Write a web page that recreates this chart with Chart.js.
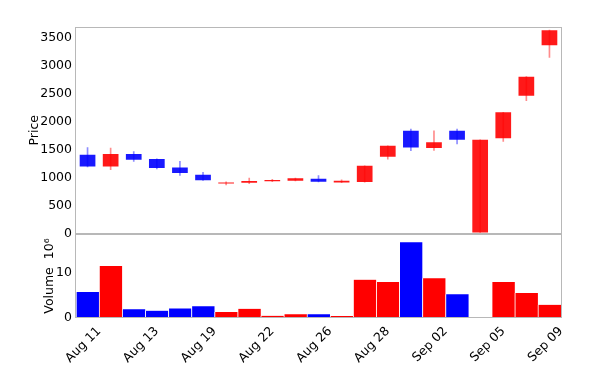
<!DOCTYPE html>
<html>
<head>
<meta charset="utf-8">
<script src="https://cdn.jsdelivr.net/npm/chart.js@4"></script>
<style>
  html, body { margin: 0; padding: 0; background: #fff; }
  #wrap { position: relative; width: 600px; height: 388px; }
  .box { position: absolute; left: 0; width: 600px; }
  #price-box { top: 0; height: 245px; }
  #vol-box   { top: 214px; height: 174px; }
</style>
</head>
<body>
<div id="wrap">
  <div id="price-box" class="box"><canvas id="price-chart"></canvas></div>
  <div id="vol-box" class="box"><canvas id="vol-chart"></canvas></div>
</div>
<script>
// ── Data ──────────────────────────────────────────────────────────────────
const OPEN  = [1411, 1202, 1423, 1333, 1184, 1054,  895,  911,  934,  946,  982,  916,  923, 1375, 1839, 1530, 1839,   20, 1708, 2470, 3375];
const HIGH  = [1541, 1530, 1470, 1340, 1291, 1095,  925,  995,  970,  995, 1036,  960, 1214, 1571, 1869, 1839, 1869, 1679, 2173, 2810, 3643];
const LOW   = [1195, 1143, 1291, 1155, 1042,  950,  870,  893,  930,  943,  925,  912,  920, 1333, 1482, 1488, 1607,   20, 1649, 2381, 3155];
const CLOSE = [1202, 1423, 1321, 1173, 1083,  952,  912,  941,  959,  988,  929,  946, 1214, 1571, 1541, 1637, 1679, 1679, 2173, 2810, 3643];
const VOLUME = [5.7, 11.4, 1.9, 1.6, 2.1, 2.6, 1.3, 2.0, 0.5, 0.8, 0.8, 0.45, 8.4, 7.9, 16.6, 8.7, 5.2, 0, 7.9, 5.5, 2.9];

// x ticks sit between trading days (index units, day i spans i..i+1)
const TICK_AT     = [1, 3.5, 6, 8.5, 11, 13.5, 16, 18.5, 21];
const TICK_LABELS = ['Aug 11', 'Aug 13', 'Aug 19', 'Aug 22', 'Aug 26', 'Aug 28', 'Sep 02', 'Sep 05', 'Sep 09'];
const PRICE_TICKS = [0, 500, 1000, 1500, 2000, 2500, 3000, 3500];
const VOL_TICKS   = [0, 10];

const RED  = '#ff0000';
const BLUE = '#0000ff';
const FONT = { family: "'DejaVu Sans', sans-serif", size: 12.5 };
const SPINE = '#b8b8b8';

const up = OPEN.map((o, i) => CLOSE[i] >= o);
const xs = OPEN.map((_, i) => i + 0.5);

// ── Shared bits ───────────────────────────────────────────────────────────
const frame = {
  id: 'frame',
  afterDraw(chart) {
    const { ctx, chartArea: a } = chart;
    ctx.save();
    ctx.strokeStyle = SPINE;
    ctx.lineWidth = 1;
    ctx.strokeRect(Math.round(a.left) - 0.5, Math.round(a.top) + 0.5,
                   Math.round(a.right - a.left) + 1, Math.round(a.bottom - a.top) - 1);
    ctx.restore();
  },
};

function xScale(show) {
  return {
    type: 'linear',
    min: 0,
    max: 21,
    offset: false,
    display: show,
    grid: { display: false, drawTicks: false },
    border: { display: false },
    afterBuildTicks: s => { s.ticks = TICK_AT.map(v => ({ value: v })); },
    afterFit: s => { if (show) s.height = 70; },
    ticks: {
      autoSkip: false,
      minRotation: 45,
      maxRotation: 45,
      padding: 6,
      color: '#000',
      font: FONT,
      callback: (v, i) => TICK_LABELS[i],
    },
  };
}

function yScale(max, tickVals, title, titlePad) {
  return {
    min: 0,
    max,
    grid: { display: false, drawTicks: false },
    border: { display: false },
    afterBuildTicks: s => { s.ticks = tickVals.map(v => ({ value: v })); },
    afterFit: s => { s.width = 76; },
    ticks: { padding: 4, color: '#000', font: FONT, callback: v => String(v) },
    title: { display: true, text: title, color: '#000', font: FONT, padding: { top: titlePad, bottom: 0 } },
  };
}

const BASE_OPTS = {
  responsive: true,
  maintainAspectRatio: false,
  animation: false,
  plugins: { legend: { display: false }, tooltip: { enabled: false } },
};

// ── Price (candles) ───────────────────────────────────────────────────────
new Chart(document.getElementById('price-chart'), {
  type: 'bar',
  data: {
    datasets: [
      {
        label: 'Body',
        data: xs.map((x, i) => ({ x, y: [OPEN[i], CLOSE[i]] })),
        backgroundColor: up.map(u => u ? 'rgba(255,0,0,0.9)' : 'rgba(0,0,255,0.9)'),
        borderWidth: 0,
        grouped: false,
        categoryPercentage: 1,
        barPercentage: 0.68,
      },
      {
        label: 'Wick',
        data: xs.map((x, i) => ({ x, y: [LOW[i], HIGH[i]] })),
        backgroundColor: up.map(u => u ? 'rgba(255,0,0,0.45)' : 'rgba(0,0,255,0.45)'),
        borderWidth: 0,
        grouped: false,
        barThickness: 1,
      },
    ],
  },
  options: {
    ...BASE_OPTS,
    layout: { padding: { top: 27, right: 39, bottom: 11, left: 0 } },
    scales: {
      x: xScale(false),
      y: yScale(3700, PRICE_TICKS, 'Price', 27),
    },
  },
  plugins: [frame],
});

// ── Volume ────────────────────────────────────────────────────────────────
new Chart(document.getElementById('vol-chart'), {
  type: 'bar',
  data: {
    datasets: [{
      label: 'Volume',
      data: xs.map((x, i) => ({ x, y: VOLUME[i] })),
      backgroundColor: up.map(u => u ? RED : BLUE),
      borderColor: 'rgba(255,255,255,0.75)',
      borderWidth: { left: 1, right: 0, top: 0, bottom: 0 },
      borderSkipped: false,
      categoryPercentage: 1,
      barPercentage: 1,
    }],
  },
  options: {
    ...BASE_OPTS,
    layout: { padding: { top: 20, right: 39, bottom: 0, left: 0 } },
    scales: {
      x: xScale(true),
      y: yScale(18.4, VOL_TICKS, 'Volume  10\u2076', 42),
    },
  },
  plugins: [frame],
});
</script>
</body>
</html>
